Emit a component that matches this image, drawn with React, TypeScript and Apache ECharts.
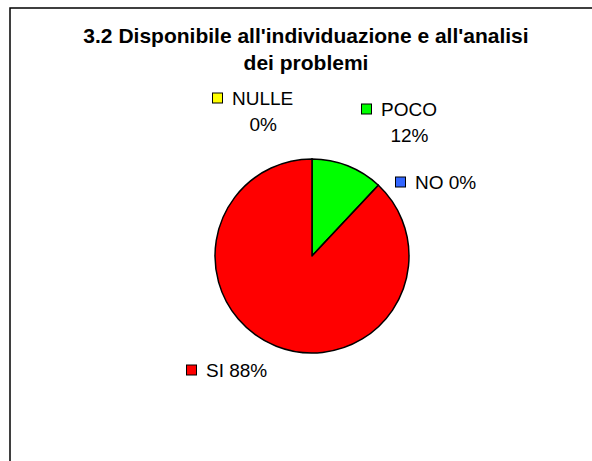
import React, { useEffect, useRef } from 'react';
import * as echarts from 'echarts';

const categories = ['NULLE', 'POCO', 'NO', 'SI'];
const values = [0, 12, 0, 88];
const colors = ['#FFFF00', '#00FF00', '#3366FF', '#FF0000'];
const titleLines = ["3.2 Disponibile all'individuazione e all'analisi", 'dei problemi'];
const twoLineLabels = ['NULLE', 'POCO'];

// label anchor: left edge of marker, vertical middle of label block
const labelPos: Record<string, [number, number]> = {
  NULLE: [213, 111],
  POCO: [362, 122],
  NO: [396, 182],
  SI: [187, 370],
};

const FONT = '"Liberation Sans", Arial, Helvetica, sans-serif';

export default function App() {
  const ref = useRef<HTMLDivElement>(null);
  useEffect(() => {
    if (!ref.current) return;
    const chart = echarts.init(ref.current, null, { renderer: 'svg' });
    const rich: Record<string, any> = {
      t: { fontFamily: FONT, fontSize: 19, color: '#000', lineHeight: 26, padding: [0, 0, 0, 10], align: 'center' },
      p: { width: 10, height: 10, align: 'center' },
    };
    categories.forEach((c, i) => {
      rich['m' + i] = {
        width: 9,
        height: 9,
        backgroundColor: colors[i],
        borderColor: '#000',
        borderWidth: 1,
        align: 'center',
      };
    });
    chart.setOption({
      animation: false,
      backgroundColor: '#fff',
      title: {
        text: titleLines.join('\n'),
        left: 306,
        top: 22,
        padding: 0,
        textAlign: 'center',
        textStyle: {
          fontFamily: FONT,
          fontSize: 21,
          fontWeight: 'bold',
          color: '#000',
          lineHeight: 27,
        },
      },
      graphic: [
        {
          type: 'rect',
          shape: { x: 10, y: 8, width: 700, height: 600 },
          style: { fill: 'none', stroke: '#000', lineWidth: 1.5 },
          silent: true,
        },
      ],
      series: [
        {
          type: 'pie',
          center: [312, 256],
          radius: 97,
          startAngle: 90,
          clockwise: true,
          avoidLabelOverlap: false,
          data: categories.map((c, i) => ({
            name: c,
            value: values[i],
            itemStyle: { color: colors[i] },
          })),
          itemStyle: { borderColor: '#000', borderWidth: 1.5 },
          label: {
            show: true,
            position: 'outside',
            formatter: (p: any) => {
              const pct = Math.round(p.percent) + '%';
              const idx = p.dataIndex;
              if (twoLineLabels.includes(p.name)) {
                return `{m${idx}|}{t|${p.name}}\n{p|}{t|${pct}}`;
              }
              return `{m${idx}|}{t|${p.name} ${pct}}`;
            },
            rich,
          },
          labelLine: { show: false },
          labelLayout: (params: any) => {
            const name = categories[params.dataIndex];
            const pos = labelPos[name];
            return { x: pos[0], y: pos[1], align: 'left', verticalAlign: 'middle' };
          },
          emphasis: { disabled: true },
        },
      ],
    });
    return () => chart.dispose();
  }, []);
  return (
    <div
      ref={ref}
      style={{ position: 'absolute', left: 0, top: 0, width: 592, height: 461, background: '#fff' }}
    />
  );
}
